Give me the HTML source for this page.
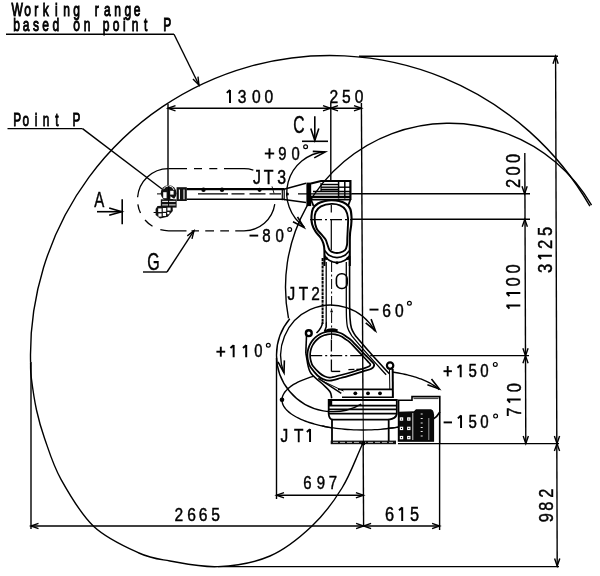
<!DOCTYPE html>
<html><head><meta charset="utf-8"><style>
html,body{margin:0;padding:0;background:#fff;}
svg{display:block;filter:grayscale(100%);}
text{font-family:"Liberation Sans",sans-serif;fill:#000;stroke:#000;stroke-width:0.45px;}
</style></head><body>
<svg width="600" height="576" viewBox="0 0 600 576" stroke="#000" fill="none" stroke-linecap="butt">
<rect x="0" y="0" width="600" height="576" fill="#fff" stroke="none"/>
<path d="M589.90,206.16 A299.5,299.5 0 0 0 30.60,362.84" stroke-width="1.4" fill="none" />
<path d="M30.55,363.00 C30.77,367.67 30.21,369.17 31.20,377.00 C32.19,384.83 34.27,399.77 36.50,410.00 C38.73,420.23 40.52,426.85 44.60,438.40 C48.68,449.95 52.80,464.62 61.00,479.30 C69.20,493.98 80.82,514.22 93.80,526.50 C106.78,538.78 126.20,547.25 138.90,553.00 C151.60,558.75 156.82,558.73 170.00,561.00 C183.18,563.27 201.33,567.43 218.00,566.60 C234.67,565.77 254.33,562.77 270.00,556.00 C285.67,549.23 300.00,537.33 312.00,526.00 C324.00,514.67 333.58,501.67 342.00,488.00 C350.42,474.33 355.67,458.67 362.50,444.00" stroke-width="1.4" fill="none" />
<path d="M591.53,205.20 A164,164 0 0 0 288.51,318.49" stroke-width="1.4" fill="none" />
<path d="M289.78,318.81 A56.5,56.5 0 0 0 361.25,404.13" stroke-width="1.4" fill="none" />
<line x1="168.00" y1="108.30" x2="361.50" y2="108.30" stroke-width="1.4" />
<path d="M175.50,105.70 L168.00,108.30 L175.50,110.90" stroke-width="1.4" fill="none" />
<path d="M323.00,110.90 L330.50,108.30 L323.00,105.70" stroke-width="1.4" fill="none" />
<path d="M338.00,105.70 L330.50,108.30 L338.00,110.90" stroke-width="1.4" fill="none" />
<path d="M354.00,110.90 L361.50,108.30 L354.00,105.70" stroke-width="1.4" fill="none" />
<line x1="168.00" y1="104.00" x2="168.00" y2="187.00" stroke-width="1.4" />
<line x1="330.80" y1="103.00" x2="330.80" y2="182.00" stroke-width="1.4" />
<line x1="361.40" y1="103.00" x2="363.60" y2="526.00" stroke-width="1.4" />
<line x1="359.00" y1="56.20" x2="558.00" y2="56.20" stroke-width="1.4" />
<line x1="555.60" y1="56.20" x2="557.20" y2="566.00" stroke-width="1.4" />
<path d="M558.20,63.70 L555.60,56.20 L553.00,63.70" stroke-width="1.4" fill="none" />
<path d="M554.40,436.10 L557.00,443.60 L559.60,436.10" stroke-width="1.4" fill="none" />
<path d="M559.60,451.10 L557.00,443.60 L554.40,451.10" stroke-width="1.4" fill="none" />
<path d="M554.60,558.50 L557.20,566.00 L559.80,558.50" stroke-width="1.4" fill="none" />
<line x1="398.00" y1="443.60" x2="559.00" y2="443.60" stroke-width="1.4" />
<line x1="218.00" y1="566.60" x2="559.00" y2="566.60" stroke-width="1.4" />
<line x1="524.80" y1="153.00" x2="525.80" y2="443.60" stroke-width="1.4" />
<path d="M522.00,186.30 L524.60,193.80 L527.20,186.30" stroke-width="1.4" fill="none" />
<path d="M527.40,226.80 L524.80,219.30 L522.20,226.80" stroke-width="1.4" fill="none" />
<path d="M522.90,348.30 L525.50,355.80 L528.10,348.30" stroke-width="1.4" fill="none" />
<path d="M528.10,363.30 L525.50,355.80 L522.90,363.30" stroke-width="1.4" fill="none" />
<path d="M523.20,436.10 L525.80,443.60 L528.40,436.10" stroke-width="1.4" fill="none" />
<line x1="352.00" y1="193.80" x2="530.00" y2="193.80" stroke-width="1.4" />
<line x1="352.00" y1="219.30" x2="530.00" y2="219.30" stroke-width="1.4" />
<line x1="377.00" y1="355.60" x2="529.00" y2="355.60" stroke-width="1.4" />
<line x1="31.00" y1="526.00" x2="439.60" y2="526.00" stroke-width="1.4" />
<path d="M38.50,523.40 L31.00,526.00 L38.50,528.60" stroke-width="1.4" fill="none" />
<path d="M356.10,528.60 L363.60,526.00 L356.10,523.40" stroke-width="1.4" fill="none" />
<path d="M371.10,523.40 L363.60,526.00 L371.10,528.60" stroke-width="1.4" fill="none" />
<path d="M432.10,528.60 L439.60,526.00 L432.10,523.40" stroke-width="1.4" fill="none" />
<line x1="31.00" y1="362.00" x2="31.00" y2="529.00" stroke-width="1.4" />
<line x1="439.60" y1="412.00" x2="439.60" y2="530.00" stroke-width="1.4" />
<line x1="276.50" y1="358.00" x2="276.50" y2="499.00" stroke-width="1.4" />
<line x1="276.50" y1="495.20" x2="363.40" y2="495.20" stroke-width="1.4" />
<path d="M284.00,492.60 L276.50,495.20 L284.00,497.80" stroke-width="1.4" fill="none" />
<path d="M355.90,497.80 L363.40,495.20 L355.90,492.60" stroke-width="1.4" fill="none" />
<line x1="6.00" y1="34.20" x2="174.00" y2="34.20" stroke-width="1.4" />
<line x1="174.00" y1="34.20" x2="199.00" y2="85.00" stroke-width="1.4" />
<path d="M192.96,79.06 L199.00,85.00 L197.98,76.59" stroke-width="1.4" fill="none" />
<line x1="7.50" y1="128.60" x2="82.50" y2="128.60" stroke-width="1.4" />
<line x1="82.50" y1="128.60" x2="162.00" y2="189.00" stroke-width="1.4" />
<line x1="143.00" y1="272.00" x2="167.00" y2="272.00" stroke-width="1.4" />
<line x1="167.00" y1="272.00" x2="194.00" y2="230.70" stroke-width="1.4" />
<path d="M191.97,238.93 L194.00,230.70 L187.28,235.86" stroke-width="1.4" fill="none" />
<line x1="97.00" y1="211.70" x2="121.70" y2="211.70" stroke-width="1.6" />
<path d="M109.20,215.30 L121.70,211.70 L109.20,208.10" stroke-width="1.6" fill="none" />
<line x1="122.20" y1="199.20" x2="122.20" y2="224.20" stroke-width="1.6" />
<line x1="314.80" y1="116.20" x2="314.80" y2="140.50" stroke-width="1.6" />
<path d="M310.80,128.50 L314.80,140.50 L318.80,128.50" stroke-width="1.6" fill="none" />
<line x1="302.00" y1="141.30" x2="328.00" y2="141.30" stroke-width="1.6" />
<text transform="translate(17.30,16.20) scale(0.640,1)" x="-8.88" y="0" font-size="18.8" style="stroke-width:1.05px">W</text>
<text transform="translate(27.50,16.20) scale(0.640,1)" x="-5.22" y="0" font-size="18.8" style="stroke-width:1.05px">o</text>
<text transform="translate(36.60,16.20) scale(0.640,1)" x="-3.57" y="0" font-size="18.8" style="stroke-width:1.05px">r</text>
<text transform="translate(46.20,16.20) scale(0.640,1)" x="-5.31" y="0" font-size="18.8" style="stroke-width:1.05px">k</text>
<text transform="translate(56.40,16.20) scale(0.640,1)" x="-2.07" y="0" font-size="18.8" style="stroke-width:1.05px">i</text>
<text transform="translate(66.60,16.20) scale(0.640,1)" x="-5.22" y="0" font-size="18.8" style="stroke-width:1.05px">n</text>
<text transform="translate(76.50,16.20) scale(0.640,1)" x="-4.98" y="0" font-size="18.8" style="stroke-width:1.05px">g</text>
<text transform="translate(97.10,16.20) scale(0.640,1)" x="-3.57" y="0" font-size="18.8" style="stroke-width:1.05px">r</text>
<text transform="translate(107.60,16.20) scale(0.640,1)" x="-5.64" y="0" font-size="18.8" style="stroke-width:1.05px">a</text>
<text transform="translate(117.70,16.20) scale(0.640,1)" x="-5.22" y="0" font-size="18.8" style="stroke-width:1.05px">n</text>
<text transform="translate(127.75,16.20) scale(0.640,1)" x="-4.98" y="0" font-size="18.8" style="stroke-width:1.05px">g</text>
<text transform="translate(137.00,16.20) scale(0.640,1)" x="-5.22" y="0" font-size="18.8" style="stroke-width:1.05px">e</text>
<text transform="translate(16.70,31.30) scale(0.640,1)" x="-5.45" y="0" font-size="18.8" style="stroke-width:1.0px">b</text>
<text transform="translate(26.40,31.30) scale(0.640,1)" x="-5.64" y="0" font-size="18.8" style="stroke-width:1.0px">a</text>
<text transform="translate(36.00,31.30) scale(0.640,1)" x="-4.65" y="0" font-size="18.8" style="stroke-width:1.0px">s</text>
<text transform="translate(45.60,31.30) scale(0.640,1)" x="-5.22" y="0" font-size="18.8" style="stroke-width:1.0px">e</text>
<text transform="translate(55.80,31.30) scale(0.640,1)" x="-4.98" y="0" font-size="18.8" style="stroke-width:1.0px">d</text>
<text transform="translate(76.50,31.30) scale(0.640,1)" x="-5.22" y="0" font-size="18.8" style="stroke-width:1.0px">o</text>
<text transform="translate(87.00,31.30) scale(0.640,1)" x="-5.22" y="0" font-size="18.8" style="stroke-width:1.0px">n</text>
<text transform="translate(106.30,31.30) scale(0.640,1)" x="-5.45" y="0" font-size="18.8" style="stroke-width:1.0px">p</text>
<text transform="translate(116.00,31.30) scale(0.640,1)" x="-5.22" y="0" font-size="18.8" style="stroke-width:1.0px">o</text>
<text transform="translate(124.30,31.30) scale(0.640,1)" x="-2.07" y="0" font-size="18.8" style="stroke-width:1.0px">i</text>
<text transform="translate(135.20,31.30) scale(0.640,1)" x="-5.22" y="0" font-size="18.8" style="stroke-width:1.0px">n</text>
<text transform="translate(145.70,31.30) scale(0.640,1)" x="-2.68" y="0" font-size="18.8" style="stroke-width:1.0px">t</text>
<text transform="translate(167.50,31.30) scale(0.640,1)" x="-6.53" y="0" font-size="18.8" style="stroke-width:1.0px">P</text>
<text transform="translate(17.25,126.00) scale(0.640,1)" x="-6.43" y="0" font-size="18.5" style="stroke-width:0.9px">P</text>
<text transform="translate(25.90,126.00) scale(0.640,1)" x="-5.13" y="0" font-size="18.5" style="stroke-width:0.9px">o</text>
<text transform="translate(36.00,126.00) scale(0.640,1)" x="-2.04" y="0" font-size="18.5" style="stroke-width:0.9px">i</text>
<text transform="translate(46.10,126.00) scale(0.640,1)" x="-5.13" y="0" font-size="18.5" style="stroke-width:0.9px">n</text>
<text transform="translate(57.00,126.00) scale(0.640,1)" x="-2.64" y="0" font-size="18.5" style="stroke-width:0.9px">t</text>
<text transform="translate(76.50,126.00) scale(0.640,1)" x="-6.43" y="0" font-size="18.5" style="stroke-width:0.9px">P</text>
<path transform="translate(228.80,102.90)" d="M1.2,0 L1.2,-13.02 M1.2,-12.82 L-2.0,-10.02" stroke-width="1.95" fill="none" stroke-linecap="butt"/>
<text transform="translate(242.00,102.90) scale(0.840,1)" x="-5.12" y="0" font-size="18.6" >3</text>
<text transform="translate(256.25,102.90) scale(0.840,1)" x="-5.16" y="0" font-size="18.6" >0</text>
<text transform="translate(268.75,102.90) scale(0.840,1)" x="-5.16" y="0" font-size="18.6" >0</text>
<text transform="translate(333.80,102.75) scale(0.840,1)" x="-5.16" y="0" font-size="18.6" >2</text>
<text transform="translate(346.40,102.75) scale(0.840,1)" x="-5.16" y="0" font-size="18.6" >5</text>
<text transform="translate(359.00,102.75) scale(0.840,1)" x="-5.16" y="0" font-size="18.6" >0</text>
<text transform="translate(299.00,133.30) scale(0.680,1)" x="-8.40" y="0" font-size="23" >C</text>
<text transform="translate(99.20,207.10) scale(0.700,1)" x="-7.20" y="0" font-size="21.5" >A</text>
<text transform="translate(153.25,269.60) scale(0.680,1)" x="-8.91" y="0" font-size="23.6" >G</text>
<text transform="translate(282.30,159.80) scale(0.840,1)" x="-4.88" y="0" font-size="17.6" >9</text>
<text transform="translate(295.50,159.80) scale(0.840,1)" x="-4.88" y="0" font-size="17.6" >0</text>
<text transform="translate(256.40,183.75) scale(0.820,1)" x="-4.27" y="0" font-size="19.4" >J</text>
<text transform="translate(268.70,183.75) scale(0.820,1)" x="-5.97" y="0" font-size="19.4" >T</text>
<text transform="translate(281.50,183.75) scale(0.820,1)" x="-5.33" y="0" font-size="19.4" >3</text>
<text transform="translate(266.50,242.00) scale(0.840,1)" x="-5.01" y="0" font-size="17.9" >8</text>
<text transform="translate(279.70,242.00) scale(0.840,1)" x="-4.97" y="0" font-size="17.9" >0</text>
<text transform="translate(290.80,299.60) scale(0.820,1)" x="-4.14" y="0" font-size="18.8" >J</text>
<text transform="translate(303.50,299.60) scale(0.820,1)" x="-5.78" y="0" font-size="18.8" >T</text>
<text transform="translate(315.60,299.60) scale(0.820,1)" x="-5.22" y="0" font-size="18.8" >2</text>
<text transform="translate(386.50,316.50) scale(0.840,1)" x="-5.21" y="0" font-size="18.6" >6</text>
<text transform="translate(399.25,316.50) scale(0.840,1)" x="-5.16" y="0" font-size="18.6" >0</text>
<path transform="translate(232.45,357.25)" d="M1.2,0 L1.2,-12.32 M1.2,-12.12 L-2.0,-9.32" stroke-width="1.95" fill="none" stroke-linecap="butt"/>
<path transform="translate(245.00,357.25)" d="M1.2,0 L1.2,-12.32 M1.2,-12.12 L-2.0,-9.32" stroke-width="1.95" fill="none" stroke-linecap="butt"/>
<text transform="translate(258.40,357.25) scale(0.840,1)" x="-4.88" y="0" font-size="17.6" >0</text>
<path transform="translate(459.50,377.20)" d="M1.2,0 L1.2,-12.53 M1.2,-12.33 L-2.0,-9.53" stroke-width="1.95" fill="none" stroke-linecap="butt"/>
<text transform="translate(472.70,377.20) scale(0.840,1)" x="-4.97" y="0" font-size="17.9" >5</text>
<text transform="translate(484.50,377.20) scale(0.840,1)" x="-4.97" y="0" font-size="17.9" >0</text>
<path transform="translate(459.85,427.90)" d="M1.2,0 L1.2,-12.53 M1.2,-12.33 L-2.0,-9.53" stroke-width="1.95" fill="none" stroke-linecap="butt"/>
<text transform="translate(472.70,427.90) scale(0.840,1)" x="-4.97" y="0" font-size="17.9" >5</text>
<text transform="translate(484.50,427.90) scale(0.840,1)" x="-4.97" y="0" font-size="17.9" >0</text>
<line x1="369.50" y1="309.60" x2="378.50" y2="309.60" stroke-width="1.9" />
<line x1="249.50" y1="235.60" x2="258.20" y2="235.60" stroke-width="1.9" />
<line x1="443.60" y1="422.40" x2="452.00" y2="422.40" stroke-width="1.9" />
<circle cx="305.6" cy="146.7" r="1.9" stroke-width="1.2" fill="none"/>
<circle cx="289.7" cy="229.5" r="1.9" stroke-width="1.2" fill="none"/>
<circle cx="409.4" cy="303.25" r="1.9" stroke-width="1.2" fill="none"/>
<circle cx="268.3" cy="345.3" r="1.9" stroke-width="1.2" fill="none"/>
<circle cx="495.3" cy="364.4" r="1.9" stroke-width="1.2" fill="none"/>
<circle cx="495.6" cy="416.1" r="1.9" stroke-width="1.2" fill="none"/>
<line x1="264.80" y1="153.50" x2="274.20" y2="153.50" stroke-width="1.9" />
<line x1="269.50" y1="148.30" x2="269.50" y2="158.70" stroke-width="1.9" />
<line x1="216.40" y1="351.70" x2="225.20" y2="351.70" stroke-width="1.9" />
<line x1="220.80" y1="346.70" x2="220.80" y2="356.70" stroke-width="1.9" />
<line x1="443.50" y1="371.20" x2="451.90" y2="371.20" stroke-width="1.9" />
<line x1="447.70" y1="366.00" x2="447.70" y2="376.40" stroke-width="1.9" />
<text transform="translate(283.80,442.10) scale(0.820,1)" x="-4.14" y="0" font-size="18.8" >J</text>
<text transform="translate(298.75,442.10) scale(0.820,1)" x="-5.78" y="0" font-size="18.8" >T</text>
<path transform="translate(308.85,442.10)" d="M1.2,0 L1.2,-13.16 M1.2,-12.96 L-2.0,-10.16" stroke-width="1.95" fill="none" stroke-linecap="butt"/>
<text transform="translate(307.50,489.00) scale(0.840,1)" x="-4.98" y="0" font-size="17.8" >6</text>
<text transform="translate(320.90,489.00) scale(0.840,1)" x="-4.94" y="0" font-size="17.8" >9</text>
<text transform="translate(333.00,489.00) scale(0.840,1)" x="-4.94" y="0" font-size="17.8" >7</text>
<text transform="translate(178.75,520.50) scale(0.840,1)" x="-5.16" y="0" font-size="18.6" >2</text>
<text transform="translate(191.50,520.50) scale(0.840,1)" x="-5.21" y="0" font-size="18.6" >6</text>
<text transform="translate(203.00,520.50) scale(0.840,1)" x="-5.21" y="0" font-size="18.6" >6</text>
<text transform="translate(215.50,520.50) scale(0.840,1)" x="-5.16" y="0" font-size="18.6" >5</text>
<text transform="translate(389.50,521.00) scale(0.840,1)" x="-5.46" y="0" font-size="19.5" >6</text>
<path transform="translate(401.00,521.00)" d="M1.2,0 L1.2,-13.65 M1.2,-13.45 L-2.0,-10.65" stroke-width="1.95" fill="none" stroke-linecap="butt"/>
<text transform="translate(414.50,521.00) scale(0.840,1)" x="-5.41" y="0" font-size="19.5" >5</text>
<text transform="translate(552.90,517.70) rotate(-90) scale(0.840,1)" x="-5.41" y="0" font-size="19.5" >9</text>
<text transform="translate(552.90,506.25) rotate(-90) scale(0.840,1)" x="-5.46" y="0" font-size="19.5" >8</text>
<text transform="translate(552.90,493.25) rotate(-90) scale(0.840,1)" x="-5.41" y="0" font-size="19.5" >2</text>
<text transform="translate(520.70,412.10) rotate(-90) scale(0.840,1)" x="-5.41" y="0" font-size="19.5" >7</text>
<path transform="translate(520.70,400.60) rotate(-90)" d="M1.2,0 L1.2,-13.65 M1.2,-13.45 L-2.0,-10.65" stroke-width="1.95" fill="none" stroke-linecap="butt"/>
<text transform="translate(520.70,387.70) rotate(-90) scale(0.840,1)" x="-5.41" y="0" font-size="19.5" >0</text>
<path transform="translate(520.30,306.60) rotate(-90)" d="M1.2,0 L1.2,-13.86 M1.2,-13.66 L-2.0,-10.86" stroke-width="1.95" fill="none" stroke-linecap="butt"/>
<path transform="translate(520.30,294.20) rotate(-90)" d="M1.2,0 L1.2,-13.86 M1.2,-13.66 L-2.0,-10.86" stroke-width="1.95" fill="none" stroke-linecap="butt"/>
<text transform="translate(520.30,281.80) rotate(-90) scale(0.840,1)" x="-5.49" y="0" font-size="19.8" >0</text>
<text transform="translate(520.30,268.80) rotate(-90) scale(0.840,1)" x="-5.49" y="0" font-size="19.8" >0</text>
<text transform="translate(551.90,268.50) rotate(-90) scale(0.840,1)" x="-5.45" y="0" font-size="19.8" >3</text>
<path transform="translate(551.90,257.00) rotate(-90)" d="M1.2,0 L1.2,-13.86 M1.2,-13.66 L-2.0,-10.86" stroke-width="1.95" fill="none" stroke-linecap="butt"/>
<text transform="translate(551.90,244.50) rotate(-90) scale(0.840,1)" x="-5.49" y="0" font-size="19.8" >2</text>
<text transform="translate(551.90,231.50) rotate(-90) scale(0.840,1)" x="-5.49" y="0" font-size="19.8" >5</text>
<text transform="translate(520.00,183.50) rotate(-90) scale(0.840,1)" x="-5.44" y="0" font-size="19.6" >2</text>
<text transform="translate(520.00,171.00) rotate(-90) scale(0.840,1)" x="-5.44" y="0" font-size="19.6" >0</text>
<text transform="translate(520.00,158.40) rotate(-90) scale(0.840,1)" x="-5.44" y="0" font-size="19.6" >0</text>
<path d="M168.6,168.6 L244,168.6 A31.1,31.1 0 0 1 244,230.8 L168.6,230.8 A31.1,31.1 0 0 1 168.6,168.6" stroke-width="1.3" fill="none" stroke-dasharray="18.4 7 8 7.3 8 6.7 29.5 43.8 53 6.25 8.75 6.25 8.75 6.25 7.5 5 26.3 8.5 9.8 8.3 9.1 7.1 46"/>
<path d="M325.00,151.72 A41.4,41.4 0 0 0 304.41,226.95" stroke-width="1.35" fill="none" />
<path d="M314.21,157.84 L325.20,152.00 L312.77,151.40" stroke-width="1.6" fill="none" />
<path d="M293.00,221.69 L304.00,227.50 L297.51,216.88" stroke-width="1.6" fill="none" />
<path d="M374.89,331.12 A50.2,50.2 0 0 0 283.88,372.88" stroke-width="1.35" fill="none" />
<path d="M365.72,322.98 L375.40,330.80 L371.08,319.13" stroke-width="1.6" fill="none" />
<path d="M277.96,361.92 L284.00,372.80 L284.38,360.36" stroke-width="1.6" fill="none" />
<path d="M282.00,400.00 C282.03,399.54 282.03,399.07 282.09,398.61 C282.14,398.15 282.23,397.69 282.35,397.23 C282.46,396.77 282.61,396.31 282.78,395.85 C282.95,395.39 283.15,394.94 283.38,394.48 C283.61,394.03 283.87,393.57 284.16,393.12 C284.44,392.67 284.76,392.23 285.10,391.78 C285.44,391.34 285.81,390.89 286.21,390.46 C286.61,390.02 287.03,389.58 287.48,389.15 C287.93,388.72 288.41,388.29 288.92,387.87 C289.42,387.45 289.95,387.03 290.51,386.61 C291.07,386.20 291.65,385.79 292.26,385.39 C292.87,384.98 293.50,384.58 294.16,384.19 C294.82,383.80 295.50,383.41 296.21,383.03 C296.91,382.65 297.64,382.27 298.40,381.90 C299.15,381.53 299.93,381.17 300.72,380.82 C301.52,380.46 302.34,380.11 303.19,379.77 C304.03,379.43 304.89,379.09 305.77,378.77 C306.66,378.44 307.56,378.12 308.49,377.81 C309.41,377.50 310.35,377.20 311.31,376.90 C312.28,376.61 313.27,376.33 314.25,376.04" stroke-width="1.35" fill="none"/>
<path d="M392.03,371.99 C393.10,372.15 394.17,372.31 395.23,372.48 C396.29,372.65 397.34,372.83 398.38,373.01 C399.42,373.20 400.45,373.40 401.46,373.60 C402.48,373.80 403.48,374.01 404.48,374.23 C405.47,374.45 406.45,374.68 407.41,374.91 C408.38,375.15 409.33,375.39 410.27,375.64 C411.20,375.89 412.13,376.14 413.04,376.41 C413.94,376.67 414.84,376.94 415.71,377.22 C416.59,377.50 417.45,377.79 418.29,378.08 C419.14,378.37 419.96,378.67 420.77,378.97 C421.58,379.28 422.37,379.59 423.15,379.91 C423.92,380.22 424.68,380.55 425.41,380.88 C426.15,381.21 426.86,381.54 427.56,381.88 C428.26,382.22 428.94,382.57 429.59,382.92 C430.25,383.27 430.89,383.63 431.50,383.99 C432.12,384.35 432.72,384.72 433.29,385.09 C433.86,385.46 434.42,385.84 434.95,386.22 C435.48,386.60 435.98,386.98 436.47,387.37 C436.96,387.76 437.42,388.15 437.86,388.54 C438.30,388.94 438.70,389.34 439.12,389.74" stroke-width="1.35" fill="none"/>
<path d="M282.00,400.00 C282.05,400.58 282.05,401.16 282.14,401.74 C282.23,402.32 282.37,402.91 282.55,403.48 C282.73,404.06 282.96,404.64 283.23,405.21 C283.50,405.78 283.82,406.35 284.18,406.92 C284.55,407.48 284.95,408.05 285.40,408.60 C285.85,409.16 286.35,409.71 286.88,410.26 C287.42,410.81 288.00,411.35 288.62,411.88 C289.25,412.42 289.91,412.94 290.62,413.46 C291.32,413.98 292.07,414.50 292.85,415.00 C293.64,415.50 294.46,416.00 295.33,416.49 C296.19,416.97 297.09,417.45 298.03,417.91 C298.97,418.38 299.94,418.84 300.95,419.28 C301.96,419.73 303.01,420.16 304.08,420.59 C305.16,421.01 306.27,421.42 307.41,421.82 C308.56,422.22 309.73,422.61 310.93,422.98 C312.14,423.36 313.37,423.72 314.63,424.06 C315.89,424.41 317.18,424.75 318.49,425.06 C319.80,425.38 321.14,425.69 322.50,425.98 C323.86,426.27 325.24,426.55 326.65,426.81 C328.05,427.07 329.48,427.32 330.92,427.55 C332.36,427.78 333.82,427.99 335.30,428.19 C336.77,428.39 338.26,428.57 339.77,428.74 C341.27,428.91 342.79,429.06 344.32,429.19 C345.85,429.33 347.39,429.44 348.93,429.54 C350.48,429.65 352.04,429.73 353.60,429.80 C355.16,429.86 356.72,429.92 358.29,429.95 C359.86,429.98 361.43,430.00 363.00,430.00 C364.57,430.00 366.14,429.98 367.71,429.95 C369.28,429.92 370.84,429.86 372.40,429.80 C373.96,429.73 375.52,429.65 377.07,429.54 C378.61,429.44 380.15,429.33 381.68,429.19 C383.21,429.06 384.73,428.91 386.23,428.74 C387.74,428.57 389.23,428.39 390.70,428.19 C392.18,427.99 393.64,427.78 395.08,427.55 C396.52,427.32 397.95,427.07 399.35,426.81 C400.76,426.55 402.14,426.27 403.50,425.98 C404.86,425.69 406.20,425.38 407.51,425.06 C408.82,424.75 410.11,424.41 411.37,424.06 C412.63,423.72 413.86,423.36 415.07,422.98 C416.27,422.61 417.44,422.22 418.59,421.82 C419.73,421.42 420.84,421.01 421.92,420.59 C422.99,420.16 424.04,419.73 425.05,419.28 C426.06,418.84 427.03,418.38 427.97,417.91 C428.91,417.45 429.81,416.97 430.67,416.49 C431.54,416.00 432.36,415.50 433.15,415.00 C433.93,414.50 434.68,413.98 435.38,413.46 C436.09,412.94 436.75,412.42 437.38,411.88 C438.00,411.35 438.54,410.80 439.12,410.26" stroke-width="1.35" fill="none"/>
<path d="M427.41,384.76 L439.20,388.90 L431.48,379.07" stroke-width="1.6" fill="none" />
<circle cx="282" cy="399.8" r="2.3" stroke-width="0" fill="#000" />
<line x1="306.50" y1="336.00" x2="305.80" y2="353.00" stroke-width="1.6" />
<path d="M305.80,353.00 C307.20,359.23 307.35,366.65 310.00,371.70 C312.65,376.75 318.37,379.97 321.70,383.30 C325.03,386.63 328.33,389.20 330.00,391.70 C331.67,394.20 331.13,396.10 331.70,398.30" stroke-width="1.6" fill="none" />
<line x1="318.30" y1="378.30" x2="341.30" y2="393.30" stroke-width="1.4" />
<line x1="322.50" y1="381.00" x2="343.50" y2="391.00" stroke-width="1.0" />
<line x1="392.70" y1="369.00" x2="392.90" y2="398.00" stroke-width="2.0" />
<line x1="389.50" y1="370.00" x2="389.80" y2="390.00" stroke-width="1.0" />
<path d="M346.83,336.91 C345.44,335.90 344.60,335.21 343.40,334.52 C342.20,333.82 340.91,333.22 339.61,332.75 C338.30,332.27 336.94,331.91 335.57,331.66 C334.20,331.42 332.79,331.30 331.40,331.30 C330.01,331.30 328.60,331.42 327.23,331.66 C325.86,331.91 324.50,332.27 323.19,332.75 C321.89,333.22 320.60,333.82 319.40,334.52 C318.20,335.21 317.04,336.02 315.97,336.91 C314.91,337.81 313.91,338.81 313.01,339.87 C312.12,340.94 311.31,342.10 310.62,343.30 C309.92,344.50 309.32,345.79 308.85,347.09 C308.37,348.40 308.01,349.76 307.76,351.13 C307.52,352.50 307.40,353.91 307.40,355.30 C307.40,356.69 307.52,358.10 307.76,359.47 C308.01,360.84 308.37,362.20 308.85,363.51 C309.32,364.81 309.17,365.30 310.62,367.30 C312.06,369.30 315.35,373.50 317.50,375.50 C319.65,377.50 321.42,378.45 323.50,379.30 C325.58,380.15 327.12,380.82 330.00,380.60 C332.88,380.38 337.13,378.97 340.80,378.00 C344.47,377.03 348.30,375.90 352.00,374.80 C355.70,373.70 359.77,372.40 363.00,371.40 C366.23,370.40 369.53,369.90 371.40,368.80 C373.27,367.70 374.28,366.17 374.20,364.80 C374.12,363.43 372.85,362.72 370.90,360.60 C368.95,358.48 365.70,355.43 362.50,352.10 C359.30,348.77 354.31,343.13 351.70,340.60 C349.09,338.07 348.21,337.93 346.83,336.91 Z" stroke-width="1.8" fill="none"/>
<path d="M345.09,338.98 C343.78,338.08 343.12,337.47 342.05,336.85 C340.98,336.24 339.84,335.71 338.69,335.28 C337.53,334.86 336.31,334.54 335.10,334.32 C333.88,334.11 332.63,334.00 331.40,334.00 C330.17,334.00 328.92,334.11 327.70,334.32 C326.49,334.54 325.27,334.86 324.11,335.28 C322.96,335.71 321.82,336.24 320.75,336.85 C319.68,337.47 318.65,338.19 317.71,338.98 C316.76,339.78 315.88,340.66 315.08,341.61 C314.29,342.55 313.57,343.58 312.95,344.65 C312.34,345.72 311.81,346.86 311.38,348.01 C310.96,349.17 310.64,350.39 310.42,351.60 C310.21,352.82 310.10,354.07 310.10,355.30 C310.10,356.53 310.21,357.78 310.42,359.00 C310.64,360.21 310.96,361.43 311.38,362.59 C311.81,363.74 311.60,364.21 312.95,365.95 C314.31,367.69 317.58,371.27 319.50,373.00 C321.42,374.73 322.75,375.53 324.50,376.30 C326.25,377.07 327.38,377.78 330.00,377.60 C332.62,377.42 336.63,376.10 340.20,375.20 C343.77,374.30 347.80,373.23 351.40,372.20 C355.00,371.17 358.90,369.93 361.80,369.00 C364.70,368.07 367.37,367.35 368.80,366.60 C370.23,365.85 370.53,365.33 370.40,364.50 C370.27,363.67 369.63,363.40 368.00,361.60 C366.37,359.80 363.62,356.92 360.60,353.70 C357.58,350.48 352.48,344.75 349.90,342.30 C347.32,339.85 346.40,339.89 345.09,338.98 Z" stroke-width="1.7" fill="none"/>
<path d="M322.6,322 Q322,328 316.5,333 M326.2,322 Q327,327 324.5,331.5" stroke-width="1.6" fill="none"/>
<path d="M324,330.5 Q331,326.5 338,329.5 L337,332 Q331,330 325,332.5 Z" fill="#000" stroke="none"/>
<circle cx="308.8" cy="333.2" r="2.9" stroke-width="2.4" fill="#fff" />
<circle cx="390.1" cy="365.6" r="3.2" stroke-width="2.2" fill="#fff" />
<line x1="310.20" y1="355.60" x2="377.00" y2="355.60" stroke-width="1.3" stroke-dasharray="12 3 2 3"/>
<line x1="331.40" y1="336.40" x2="331.40" y2="371.50" stroke-width="1.3" stroke-dasharray="12 3 2 3" stroke-dashoffset="-3"/>
<line x1="331.40" y1="371.40" x2="340.20" y2="371.40" stroke-width="1.4" />
<line x1="348.40" y1="369.60" x2="361.40" y2="369.20" stroke-width="1.3" stroke-dasharray="6 2"/>
<line x1="322.60" y1="258.00" x2="322.60" y2="324.00" stroke-width="2.0" stroke-dasharray="3 0.8"/>
<line x1="326.20" y1="262.00" x2="326.20" y2="322.00" stroke-width="1.3" />
<path d="M349.60,256.00 C349.60,270.67 349.53,289.67 349.60,300.00 C349.67,310.33 349.70,313.33 350.00,318.00 C350.30,322.67 350.63,325.27 351.40,328.00 C352.17,330.73 353.50,332.60 354.60,334.40 C355.70,336.20 354.82,335.07 358.00,338.80 C361.18,342.53 368.47,350.97 373.70,356.80 C378.93,362.63 384.17,368.13 389.40,373.80" stroke-width="1.6" fill="none" />
<path d="M346.30,262.00 C346.30,274.67 346.27,290.67 346.30,300.00 C346.33,309.33 346.28,313.42 346.50,318.00 C346.72,322.58 346.88,324.80 347.60,327.50 C348.32,330.20 349.68,332.32 350.80,334.20 C351.92,336.08 351.03,334.93 354.30,338.80 C357.57,342.67 365.08,351.40 370.40,357.40 C375.72,363.40 380.93,369.00 386.20,374.80" stroke-width="1.3" fill="none" />
<path d="M324.60,250.50 C326.23,252.20 327.43,254.42 329.50,255.60 C331.57,256.78 334.50,257.60 337.00,257.60 C339.50,257.60 342.40,256.78 344.50,255.60 C346.60,254.42 347.90,252.20 349.60,250.50" stroke-width="1.7" fill="none" />
<path d="M324.40,255.50 C326.10,257.20 327.40,259.42 329.50,260.60 C331.60,261.78 334.50,262.60 337.00,262.60 C339.50,262.60 342.37,261.78 344.50,260.60 C346.63,259.42 348.03,257.20 349.80,255.50" stroke-width="1.7" fill="none" />
<circle cx="326.3" cy="258.6" r="1.5" stroke-width="0" fill="#000" />
<circle cx="337" cy="262.8" r="1.5" stroke-width="0" fill="#000" />
<circle cx="347.8" cy="258.6" r="1.5" stroke-width="0" fill="#000" />
<rect x="336.4" y="273.8" width="10.8" height="14.7" rx="5" ry="5" stroke-width="1.6" fill="none"/>
<line x1="331.60" y1="262.00" x2="331.60" y2="339.00" stroke-width="1.0" stroke-dasharray="10 2.5 2 2.5"/>
<circle cx="331.6" cy="311.5" r="1.2" stroke-width="0" fill="#000" />
<path d="M324.40,266.00 C324.40,260.67 324.57,253.75 324.40,250.00 C324.23,246.25 324.05,245.58 323.40,243.50 C322.75,241.42 321.82,239.50 320.50,237.50 C319.18,235.50 316.88,233.67 315.50,231.50 C314.12,229.33 312.87,227.08 312.20,224.50 C311.53,221.92 311.37,218.67 311.50,216.00 C311.63,213.33 311.92,210.58 313.00,208.50 C314.08,206.42 316.00,204.75 318.00,203.50 C320.00,202.25 322.75,201.53 325.00,201.00 C327.25,200.47 329.17,200.30 331.50,200.30 C333.83,200.30 336.58,200.42 339.00,201.00 C341.42,201.58 344.12,202.47 346.00,203.80 C347.88,205.13 349.38,206.80 350.30,209.00 C351.22,211.20 351.35,214.33 351.50,217.00 C351.65,219.67 351.42,222.50 351.20,225.00 C350.98,227.50 350.43,229.50 350.20,232.00 C349.97,234.50 349.87,234.33 349.80,240.00 C349.73,245.67 349.80,257.33 349.80,266.00" stroke-width="2.1" fill="none"/>
<path d="M331.50,203.90 C334.67,203.73 337.65,204.38 340.00,205.40 C342.35,206.42 344.27,207.90 345.60,210.00 C346.93,212.10 347.63,215.00 348.00,218.00 C348.37,221.00 347.92,224.67 347.80,228.00 C347.68,231.33 347.43,235.17 347.30,238.00 C347.17,240.83 347.38,242.97 347.00,245.00 C346.62,247.03 346.17,248.93 345.00,250.20 C343.83,251.47 341.83,252.20 340.00,252.60 C338.17,253.00 335.73,253.00 334.00,252.60 C332.27,252.20 330.70,251.55 329.60,250.20 C328.50,248.85 328.07,246.28 327.40,244.50 C326.73,242.72 326.63,241.22 325.60,239.50 C324.57,237.78 322.70,236.03 321.20,234.20 C319.70,232.37 317.68,230.87 316.60,228.50 C315.52,226.13 314.85,222.75 314.70,220.00 C314.55,217.25 314.65,214.27 315.70,212.00 C316.75,209.73 318.37,207.75 321.00,206.40 C323.63,205.05 328.33,204.07 331.50,203.90 Z" stroke-width="1.9" fill="none"/>
<line x1="311.00" y1="199.50" x2="313.50" y2="206.00" stroke-width="1.8" />
<line x1="350.40" y1="199.50" x2="348.20" y2="205.50" stroke-width="1.8" />
<line x1="310.00" y1="219.60" x2="352.00" y2="219.60" stroke-width="1.1" stroke-dasharray="12 3 2 3"/>
<line x1="331.30" y1="205.00" x2="331.30" y2="212.50" stroke-width="1.2" />
<line x1="331.30" y1="219.60" x2="331.30" y2="250.00" stroke-width="1.2" />
<line x1="186.50" y1="189.20" x2="284.00" y2="189.20" stroke-width="2.2" />
<line x1="186.50" y1="199.30" x2="284.00" y2="199.30" stroke-width="1.6" />
<line x1="198.00" y1="193.80" x2="281.00" y2="193.80" stroke-width="1.3" stroke-dasharray="30 3.5 13 5 16 4 14 4 30 4 20"/>
<circle cx="203.5" cy="189.8" r="2.2" stroke-width="0" fill="#000" />
<circle cx="222" cy="189.8" r="2.2" stroke-width="0" fill="#000" />
<circle cx="259.6" cy="189.8" r="2.1" stroke-width="0" fill="#000" />
<line x1="282.30" y1="188.50" x2="282.30" y2="200.20" stroke-width="1.2" />
<line x1="284.20" y1="188.50" x2="284.20" y2="200.20" stroke-width="1.2" />
<line x1="284.00" y1="189.20" x2="306.00" y2="183.30" stroke-width="1.5" />
<line x1="284.00" y1="199.60" x2="306.00" y2="202.50" stroke-width="1.5" />
<circle cx="287.4" cy="194.1" r="1.5" stroke-width="0" fill="#000" />
<line x1="272.00" y1="186.40" x2="274.00" y2="193.30" stroke-width="0.9" />
<path d="M311,183.5 L321,181 L350.4,181 L350.4,200" stroke-width="2.2" fill="none"/>
<rect x="306.4" y="182.6" width="4.8" height="23.5" stroke-width="0" fill="#000" />
<line x1="311.00" y1="197.00" x2="350.40" y2="197.00" stroke-width="2.4" />
<line x1="311.00" y1="199.80" x2="350.40" y2="199.80" stroke-width="1.6" />
<line x1="321.00" y1="184.50" x2="338.00" y2="184.50" stroke-width="1.4" />
<line x1="321.00" y1="187.20" x2="350.00" y2="187.20" stroke-width="1.4" />
<line x1="321.00" y1="189.60" x2="338.00" y2="189.60" stroke-width="1.8" />
<line x1="313.00" y1="191.40" x2="350.00" y2="191.40" stroke-width="1.5" />
<line x1="338.60" y1="181.50" x2="338.60" y2="198.50" stroke-width="1.5" />
<line x1="344.80" y1="181.50" x2="344.80" y2="198.50" stroke-width="1.5" />
<line x1="321.00" y1="183.00" x2="321.00" y2="191.30" stroke-width="1.2" />
<line x1="298.00" y1="193.80" x2="352.00" y2="193.80" stroke-width="1.2" />
<circle cx="168.6" cy="193.2" r="7.9" stroke-width="0" fill="#111" />
<path d="M160.8,199.3 L176.6,199.3 L176.6,207.6 L160.8,207.6 Z" fill="#111" stroke="none"/>
<path d="M157.5,206 L172.6,205.2 L172.8,211 L167.8,216.8 L160,218.5 L155.6,215 L155.6,209 Z" fill="#111" stroke="none"/>
<rect x="176.6" y="187.2" width="10.2" height="13.8" stroke-width="0" fill="#111" />
<path d="M163.2,192.2 L166.6,192.2 L166.6,198.2 L163.2,198.2 Z" fill="#fff" stroke="none"/>
<path d="M170.2,190.8 L173.6,190.8 L173.6,194.6 L170.2,194.6 Z" fill="#fff" stroke="none"/>
<path d="M170.4,196.2 L174.4,199 L170.4,199 Z" fill="#fff" stroke="none"/>
<path d="M163.5,189.2 A5.6,5.6 0 0 1 174,190" stroke="#fff" stroke-width="0.9" fill="none"/>
<line x1="162.20" y1="201.40" x2="175.60" y2="201.40" stroke-width="1.0" stroke="#fff"/>
<line x1="162.20" y1="204.90" x2="175.60" y2="204.90" stroke-width="1.0" stroke="#fff"/>
<line x1="168.60" y1="199.80" x2="168.60" y2="206.80" stroke-width="1.0" />
<path d="M158.2,208.4 L161.6,208.4 L161.6,212.0 L158.2,212.0 Z" fill="#fff" stroke="none"/>
<path d="M162.8,208.0 L166.2,208.0 L166.2,211.8 L162.8,211.8 Z" fill="#fff" stroke="none"/>
<path d="M158.4,213.4 L161.6,213.4 L161.6,216.6 L158.4,216.6 Z" fill="#fff" stroke="none"/>
<path d="M162.8,213.0 L166.0,213.0 L166.0,216.0 L162.8,216.0 Z" fill="#fff" stroke="none"/>
<path d="M167.4,207.6 L170.6,207.6 L170.6,210.6 L167.4,210.6 Z" fill="#fff" stroke="none"/>
<path d="M167.2,212.0 L169.4,212.0 L169.4,214.2 L167.2,214.2 Z" fill="#fff" stroke="none"/>
<line x1="179.40" y1="189.40" x2="179.40" y2="199.20" stroke-width="1.1" stroke="#fff"/>
<line x1="184.00" y1="189.40" x2="184.00" y2="199.20" stroke-width="1.1" stroke="#fff"/>
<line x1="168.75" y1="186.00" x2="168.75" y2="199.00" stroke-width="1.0" />
<line x1="157.00" y1="193.90" x2="161.00" y2="193.90" stroke-width="1.0" />
<line x1="153.60" y1="212.50" x2="156.00" y2="212.50" stroke-width="1.0" />
<path d="M328.7,399.5 L397,399.5 L397,415 L389,420 L389,441 L332,441 L332,420 L328.7,415 Z" fill="#fff" stroke="none"/>
<line x1="338.00" y1="389.30" x2="393.00" y2="389.30" stroke-width="1.8" />
<line x1="342.00" y1="397.30" x2="392.70" y2="397.30" stroke-width="1.6" />
<circle cx="355.3" cy="393.3" r="1.9" stroke-width="0" fill="#000" />
<circle cx="368" cy="393.3" r="1.9" stroke-width="0" fill="#000" />
<circle cx="380" cy="393.3" r="1.9" stroke-width="0" fill="#000" />
<line x1="328.70" y1="399.90" x2="396.80" y2="399.90" stroke-width="2.0" />
<line x1="328.70" y1="405.60" x2="396.80" y2="405.60" stroke-width="1.6" />
<line x1="328.70" y1="409.40" x2="396.80" y2="409.40" stroke-width="1.6" />
<line x1="328.70" y1="413.70" x2="396.80" y2="413.70" stroke-width="1.8" />
<path d="M328.7,399 L328.7,414 Q329,418.5 332,419.7 L332,441 M396.8,399 L396.8,414 Q396,418.5 388.7,419.7 L388.7,441" stroke-width="1.8" fill="none"/>
<line x1="332.00" y1="419.70" x2="388.70" y2="419.70" stroke-width="1.8" />
<rect x="328.7" y="400.5" width="3.5" height="4.5" stroke-width="0" fill="#000" />
<rect x="330.7" y="440.6" width="65.3" height="3.6" stroke-width="0" fill="#111" />
<line x1="333.00" y1="442.40" x2="393.00" y2="442.40" stroke-width="0.7" stroke="#fff" stroke-dasharray="5 2"/>
<circle cx="363.2" cy="443.3" r="2.2" stroke-width="0" fill="#000" />
<path d="M327.09,411.39 A56.5,56.5 0 0 0 361.25,404.13" stroke-width="1.3" fill="none" />
<path d="M322.50,425.98 C324.27,426.33 326.01,426.70 327.81,427.02 C329.61,427.34 331.45,427.64 333.31,427.91 C335.18,428.18 337.07,428.43 338.98,428.65 C340.89,428.87 342.83,429.06 344.78,429.23 C346.73,429.40 348.70,429.54 350.68,429.65 C352.66,429.76 354.65,429.85 356.64,429.91 C358.64,429.97 360.65,430.00 362.65,430.00 C364.65,430.00 366.65,429.98 368.65,429.93 C370.65,429.88 372.64,429.80 374.62,429.69 C376.60,429.58 378.58,429.45 380.53,429.29 C382.49,429.13 384.43,428.94 386.34,428.73 C388.26,428.51 390.16,428.27 392.03,428.01 C393.90,427.74 395.74,427.45 397.55,427.13 C399.36,426.82 401.14,426.48 402.89,426.11 C404.63,425.75 406.34,425.36 408.00,424.94 C409.66,424.53 411.29,424.10 412.87,423.64 C414.45,423.18 415.98,422.70 417.46,422.21 C418.94,421.71 420.38,421.19 421.76,420.65 C423.13,420.11 424.46,419.56 425.73,418.98 C426.99,418.41 428.14,417.80 429.35,417.21" stroke-width="1.3" fill="none"/>
<line x1="363.00" y1="399.00" x2="363.40" y2="444.00" stroke-width="1.0" />
<path d="M398.6,441 L398.6,400.3 L412,400.3 L412,396.6 L439.8,396.6 L439.8,412 Q437,417 433.3,419 L433.3,441 Z" stroke-width="1.6" fill="#fff"/>
<line x1="413.50" y1="398.60" x2="438.50" y2="398.60" stroke-width="0.8" />
<path d="M398.6,441.2 L398.6,411.8 L414,411.2 L416,409.2 L431,409.2 Q435,410.5 434,419 L433.6,441.2 Z" fill="#0a0a0a" stroke="none"/>
<rect x="399.8" y="417.3" width="3.4" height="3.4" fill="#fff" stroke="none"/>
<circle cx="401.5" cy="419.0" r="0.6" stroke-width="0" fill="#000" />
<rect x="407.1" y="417.3" width="3.4" height="3.4" fill="#fff" stroke="none"/>
<circle cx="408.8" cy="419.0" r="0.6" stroke-width="0" fill="#000" />
<rect x="399.8" y="426.7" width="3.4" height="3.4" fill="#fff" stroke="none"/>
<circle cx="401.5" cy="428.4" r="0.6" stroke-width="0" fill="#000" />
<rect x="407.1" y="426.7" width="3.4" height="3.4" fill="#fff" stroke="none"/>
<circle cx="408.8" cy="428.4" r="0.6" stroke-width="0" fill="#000" />
<rect x="399.8" y="435.90000000000003" width="3.4" height="3.4" fill="#fff" stroke="none"/>
<circle cx="401.5" cy="437.6" r="0.6" stroke-width="0" fill="#000" />
<rect x="407.1" y="435.90000000000003" width="3.4" height="3.4" fill="#fff" stroke="none"/>
<circle cx="408.8" cy="437.6" r="0.6" stroke-width="0" fill="#000" />
<line x1="412.80" y1="413.00" x2="412.80" y2="440.00" stroke-width="0.8" stroke="#fff"/>
<line x1="420.70" y1="414.00" x2="422.70" y2="414.00" stroke-width="0.9" stroke="#fff"/>
<line x1="420.70" y1="418.50" x2="422.70" y2="418.50" stroke-width="0.9" stroke="#fff"/>
<line x1="420.70" y1="423.00" x2="422.70" y2="423.00" stroke-width="0.9" stroke="#fff"/>
<line x1="420.70" y1="427.50" x2="422.70" y2="427.50" stroke-width="0.9" stroke="#fff"/>
<line x1="420.70" y1="431.50" x2="422.70" y2="431.50" stroke-width="0.9" stroke="#fff"/>
<line x1="420.70" y1="436.00" x2="422.70" y2="436.00" stroke-width="0.9" stroke="#fff"/>
<line x1="428.80" y1="418.00" x2="428.80" y2="440.00" stroke-width="0.8" stroke="#bbb"/>
<line x1="439.80" y1="412.00" x2="439.80" y2="444.00" stroke-width="1.1" />
</svg>
</body></html>
